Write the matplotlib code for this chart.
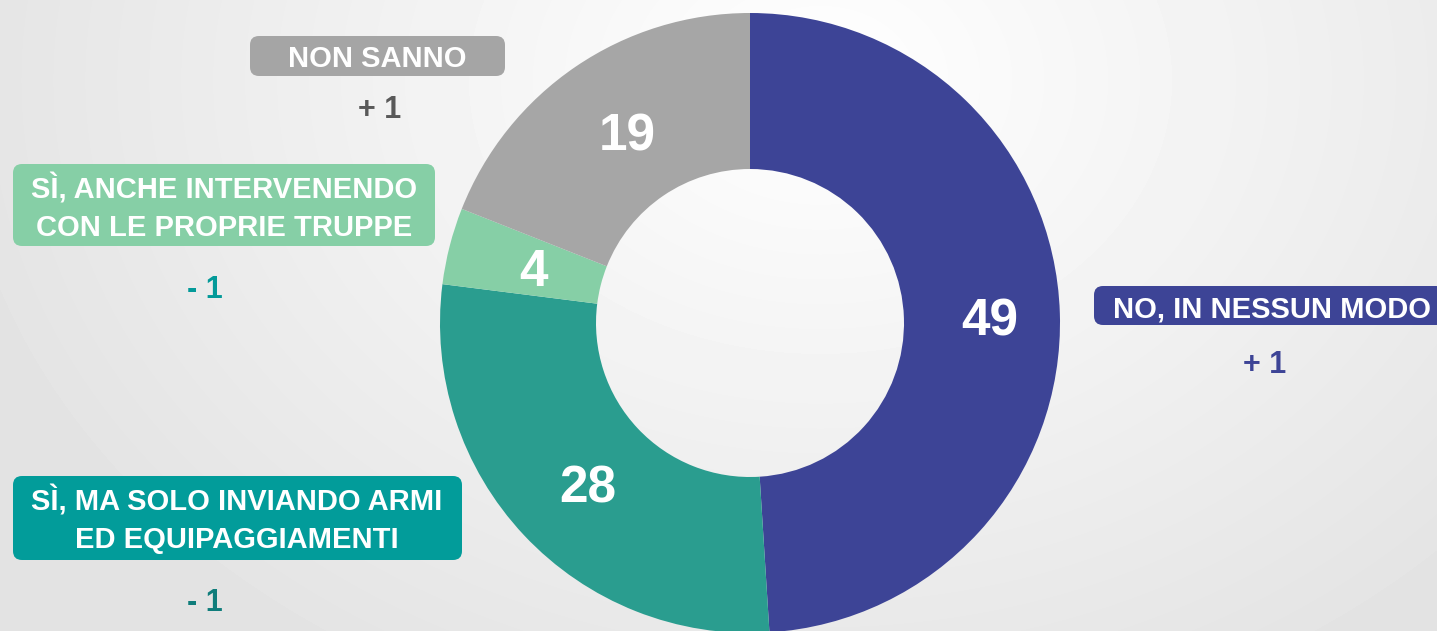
import numpy as np
import matplotlib
matplotlib.use('Agg')
import matplotlib.pyplot as plt
from matplotlib.patches import FancyBboxPatch

plt.rcParams['font.family'] = ['Liberation Sans', 'DejaVu Sans']
plt.rcParams['font.weight'] = 'bold'

categories = ['NO, IN NESSUN MODO', 'SÌ, MA SOLO INVIANDO ARMI\nED EQUIPAGGIAMENTI',
              'SÌ, ANCHE INTERVENENDO\nCON LE PROPRIE TRUPPE', 'NON SANNO']
values = [49, 28, 4, 19]
changes = ['+ 1', '- 1', '- 1', '+ 1']
colors = ['#3D4496', '#2A9D8F', '#86CFA6', '#A6A6A6']
box_colors = ['#3D4496', '#029C9A', '#86CFA6', '#A5A5A5']
change_colors = ['#3D4496', '#0F7D7B', '#039A99', '#595959']

W, H = 1437, 631
fig = plt.figure(figsize=(W / 100, H / 100), dpi=100)
ax = fig.add_axes([0, 0, 1, 1])

# soft light background
yy, xx = np.mgrid[0:H, 0:W]
d = np.sqrt(((xx - 820) / 900.0) ** 2 + ((yy - 80) / 700.0) ** 2)
bg = 1.0 - 0.11 * np.clip(d, 0, 1)
ax.imshow(bg, cmap='gray', vmin=0, vmax=1, extent=[0, W, H, 0], zorder=0)

# y axis runs downward, so start at -90 and go "counterclockwise" in data = clockwise on screen
cx, cy, r = 750, 323, 310
wedges, _ = ax.pie(values, colors=colors, startangle=-90, counterclock=True,
                   center=(cx, cy), radius=r, wedgeprops=dict(width=r - 154, linewidth=0))
for w in wedges:
    w.set_zorder(2)

# value labels inside ring
val_pos = [(990, 322), (588, 489), (533, 272), (627, 137)]
for (x, y), v in zip(val_pos, values):
    ax.text(x, y, str(v), color='white', fontsize=37, fontweight='bold',
            ha='center', va='center', zorder=3)

# category boxes: (x0, y0, x1, y1), text center, change center
boxes = [(1094, 286, 1445, 325), (13, 476, 462, 560), (13, 164, 435, 246), (250, 36, 505, 76)]
text_pos = [(1272, 309), (237, 520), (224, 208), (377, 59)]
chg_pos = [(1265, 365), (205, 603), (205, 290), (380, 110)]

for i in range(4):
    x0, y0, x1, y1 = boxes[i]
    ax.add_patch(FancyBboxPatch((x0, y0), x1 - x0, y1 - y0,
                                boxstyle='round,pad=0,rounding_size=9',
                                facecolor=box_colors[i], edgecolor='none', zorder=3))
    ax.text(text_pos[i][0], text_pos[i][1], categories[i], color='white', fontsize=21,
            fontweight='bold', ha='center', va='center', linespacing=1.45, zorder=4)
    ax.text(chg_pos[i][0], chg_pos[i][1], changes[i], color=change_colors[i], fontsize=22,
            fontweight='bold', ha='center', va='center', zorder=4)

ax.set_xlim(0, W)
ax.set_ylim(H, 0)
ax.set_aspect('equal')
ax.axis('off')

fig.savefig('out.png', dpi=100)
